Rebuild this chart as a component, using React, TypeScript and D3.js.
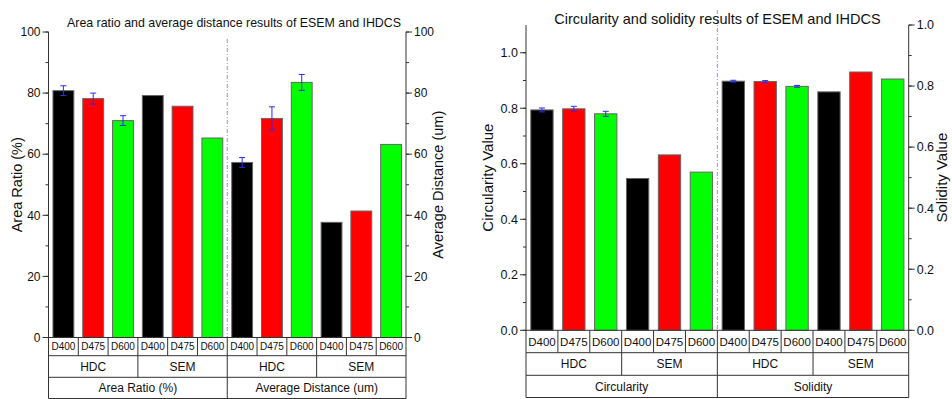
import React, { useEffect, useRef } from "react";
import * as d3 from "d3";

// categories
const sizes = ["D400", "D475", "D600"];
const methods = ["HDC", "SEM"];
const leftMeasures = ["Area Ratio (%)", "Average Distance (um)"];
const rightMeasures = ["Circularity", "Solidity"];

// left chart values
const areaRatioHDC = [80.8, 78.2, 71.0];
const areaRatioHDCErr = [1.6, 1.8, 1.6];
const areaRatioSEM = [79.2, 75.7, 65.3];
const avgDistHDC = [57.3, 71.7, 83.5];
const avgDistHDCErr = [1.6, 3.8, 2.6];
const avgDistSEM = [37.7, 41.4, 63.2];

// right chart values
const circHDC = [0.794, 0.798, 0.78];
const circHDCErr = [0.007, 0.009, 0.009];
const circSEM = [0.547, 0.632, 0.57];
const solidHDC = [0.816, 0.815, 0.799];
const solidHDCErr = [0.003, 0.003, 0.003];
const solidSEM = [0.781, 0.846, 0.823];

// tick labels
const pctTicks = [0, 20, 40, 60, 80, 100];
const valTicks = [0, 0.2, 0.4, 0.6, 0.8, 1.0];

const barColors = ["#000000", "#ff0000", "#00ff00"];

type Series = { measure: string; method: string; values: number[]; errs?: number[]; axis: "l" | "r" };

type Cfg = {
  x0: number; x1: number; yTop: number; yBot: number; yTopL: number;
  rows: number[]; dashTop: number;
  title: string; titleX: number; titleY: number; titleSize: number;
  lDomain: [number, number]; rDomain: [number, number];
  lTicks: number[]; rTicks: number[]; minorStep: number; fmt: (v: number) => string;
  lTitle: string; lTitleX: number; rTitle: string; rTitleX: number;
  axisTitleSize: number; tickSize: number; catSize: number; grpSize: number;
  measures: string[]; series: Series[];
};

function drawChart(svg: d3.Selection<SVGSVGElement, unknown, null, undefined>, c: Cfg) {
  const g = svg.append("g").attr("font-family", "'Liberation Sans', Arial, sans-serif");
  const ids: string[] = [];
  c.measures.forEach((m) => methods.forEach((me) => sizes.forEach((s) => ids.push(`${m}|${me}|${s}`))));
  const x = d3.scaleBand().domain(ids).range([c.x0, c.x1]).padding(0);
  const step = x.step();
  const bw = step * 0.7;
  const yL = d3.scaleLinear().domain(c.lDomain).range([c.yBot, c.yTopL]);
  const yR = d3.scaleLinear().domain(c.rDomain).range([c.yBot, c.yTop]);
  const axisCol = "#333";

  // divider
  const mid = (c.x0 + c.x1) / 2;
  g.append("line").attr("x1", mid).attr("x2", mid).attr("y1", c.dashTop).attr("y2", c.yBot)
    .attr("stroke", "#7777dd").attr("stroke-width", 0.8).attr("stroke-dasharray", "4,2,1,2");

  // bars
  c.series.forEach((s) => {
    const y = s.axis === "l" ? yL : yR;
    s.values.forEach((v, i) => {
      const cx = (x(`${s.measure}|${s.method}|${sizes[i]}`) as number) + step / 2;
      g.append("rect").attr("x", cx - bw / 2).attr("y", y(v)).attr("width", bw)
        .attr("height", c.yBot - y(v)).attr("fill", barColors[i])
        .attr("stroke", "#666").attr("stroke-width", 1);
      if (s.errs) {
        const e = s.errs[i];
        const eg = g.append("g").attr("stroke", "#2a2aff").attr("stroke-width", 1);
        eg.append("line").attr("x1", cx).attr("x2", cx).attr("y1", y(v + e)).attr("y2", y(v - e));
        [v + e, v - e].forEach((t) =>
          eg.append("line").attr("x1", cx - 3).attr("x2", cx + 3).attr("y1", y(t)).attr("y2", y(t)));
      }
    });
  });

  // axes
  const minor = (dom: [number, number]) => d3.range(dom[0], dom[1] + 1e-9, c.minorStep);
  const axisG = g.append("g").attr("stroke", axisCol).attr("stroke-width", 1);
  axisG.append("line").attr("x1", c.x0).attr("x2", c.x0).attr("y1", c.yTopL).attr("y2", c.rows[2]);
  axisG.append("line").attr("x1", c.x1).attr("x2", c.x1).attr("y1", c.yTop).attr("y2", c.rows[2]);
  minor([c.lDomain[0], Math.min(c.lDomain[1], c.lTicks[c.lTicks.length - 1])]).forEach((t) =>
    axisG.append("line").attr("x1", c.x0 - 3).attr("x2", c.x0).attr("y1", yL(t)).attr("y2", yL(t)));
  minor(c.rDomain).forEach((t) =>
    axisG.append("line").attr("x1", c.x1).attr("x2", c.x1 + 3).attr("y1", yR(t)).attr("y2", yR(t)));
  c.lTicks.forEach((t) => {
    axisG.append("line").attr("x1", c.x0 - 6).attr("x2", c.x0).attr("y1", yL(t)).attr("y2", yL(t));
    g.append("text").attr("x", c.x0 - 8).attr("y", yL(t)).attr("dy", "0.35em").attr("text-anchor", "end")
      .attr("font-size", c.tickSize).attr("fill", "#111").text(c.fmt(t));
  });
  c.rTicks.forEach((t) => {
    axisG.append("line").attr("x1", c.x1).attr("x2", c.x1 + 6).attr("y1", yR(t)).attr("y2", yR(t));
    g.append("text").attr("x", c.x1 + 8).attr("y", yR(t)).attr("dy", "0.35em")
      .attr("font-size", c.tickSize).attr("fill", "#111").text(c.fmt(t));
  });

  // category table
  const tg = g.append("g").attr("stroke", axisCol).attr("stroke-width", 1);
  tg.append("line").attr("x1", c.x0).attr("x2", c.x1).attr("y1", c.yBot).attr("y2", c.yBot);
  c.rows.forEach((r) => tg.append("line").attr("x1", c.x0).attr("x2", c.x1).attr("y1", r).attr("y2", r));
  const rowTop = [c.yBot, c.rows[0], c.rows[1]];
  const spans = [1, 3, 6];
  spans.forEach((sp, ri) => {
    for (let k = sp; k < 12; k += sp) {
      const xx = c.x0 + k * step;
      tg.append("line").attr("x1", xx).attr("x2", xx).attr("y1", rowTop[ri]).attr("y2", c.rows[ri]);
    }
  });
  const labelRow = (ri: number, labels: string[], sp: number, size: number) =>
    labels.forEach((l, k) =>
      g.append("text").attr("x", c.x0 + (k + 0.5) * sp * step).attr("y", (rowTop[ri] + c.rows[ri]) / 2)
        .attr("dy", "0.36em").attr("text-anchor", "middle").attr("font-size", size).attr("fill", "#111").text(l));
  labelRow(0, ids.map((d) => d.split("|")[2]), 1, c.catSize);
  labelRow(1, ids.filter((_, i) => i % 3 === 0).map((d) => d.split("|")[1]), 3, c.grpSize);
  labelRow(2, c.measures, 6, c.grpSize);

  // titles
  g.append("text").attr("x", c.titleX).attr("y", c.titleY).attr("text-anchor", "middle")
    .attr("font-size", c.titleSize).attr("fill", "#111").text(c.title);
  const cy = (c.yTop + c.yBot) / 2;
  g.append("text").attr("transform", `translate(${c.lTitleX},${cy}) rotate(-90)`).attr("dy", "0.35em")
    .attr("text-anchor", "middle").attr("font-size", c.axisTitleSize).attr("fill", "#111").text(c.lTitle);
  g.append("text").attr("transform", `translate(${c.rTitleX},${cy}) rotate(-90)`).attr("dy", "0.35em")
    .attr("text-anchor", "middle").attr("font-size", c.axisTitleSize).attr("fill", "#111").text(c.rTitle);
}

export default function App() {
  const ref = useRef<SVGSVGElement>(null);

  useEffect(() => {
    const svg = d3.select(ref.current as SVGSVGElement);
    svg.selectAll("*").remove();

    drawChart(svg, {
      x0: 48.5, x1: 406, yTop: 32, yTopL: 32, yBot: 337.5, rows: [355.7, 377.3, 398.5], dashTop: 39,
      title: "Area ratio and average distance results of ESEM and IHDCS", titleX: 234, titleY: 27, titleSize: 12.4,
      lDomain: [0, 100], rDomain: [0, 100], lTicks: pctTicks, rTicks: pctTicks, minorStep: 10,
      fmt: (v) => String(v),
      lTitle: "Area Ratio (%)", lTitleX: 17, rTitle: "Average Distance (um)", rTitleX: 438,
      axisTitleSize: 14.5, tickSize: 12, catSize: 10, grpSize: 12,
      measures: leftMeasures,
      series: [
        { measure: leftMeasures[0], method: "HDC", values: areaRatioHDC, errs: areaRatioHDCErr, axis: "l" },
        { measure: leftMeasures[0], method: "SEM", values: areaRatioSEM, axis: "l" },
        { measure: leftMeasures[1], method: "HDC", values: avgDistHDC, errs: avgDistHDCErr, axis: "r" },
        { measure: leftMeasures[1], method: "SEM", values: avgDistSEM, axis: "r" },
      ],
    });

    drawChart(svg, {
      x0: 526, x1: 908.7, yTop: 25, yTopL: 25, yBot: 330.3, rows: [352.7, 375.3, 397.5], dashTop: 10,
      title: "Circularity and solidity results of ESEM and IHDCS", titleX: 717.5, titleY: 24, titleSize: 14.5,
      lDomain: [0, 1.1], rDomain: [0, 1.0], lTicks: valTicks, rTicks: valTicks, minorStep: 0.1,
      fmt: d3.format(".1f"),
      lTitle: "Circularity Value", lTitleX: 488, rTitle: "Solidity Value", rTitleX: 942,
      axisTitleSize: 15, tickSize: 12.5, catSize: 11.5, grpSize: 12,
      measures: rightMeasures,
      series: [
        { measure: rightMeasures[0], method: "HDC", values: circHDC, errs: circHDCErr, axis: "l" },
        { measure: rightMeasures[0], method: "SEM", values: circSEM, axis: "l" },
        { measure: rightMeasures[1], method: "HDC", values: solidHDC, errs: solidHDCErr, axis: "r" },
        { measure: rightMeasures[1], method: "SEM", values: solidSEM, axis: "r" },
      ],
    });
  }, []);

  return (
    <svg ref={ref} width={952} height={399}
      style={{ position: "absolute", left: 0, top: 0, background: "#fff" }} />
  );
}
